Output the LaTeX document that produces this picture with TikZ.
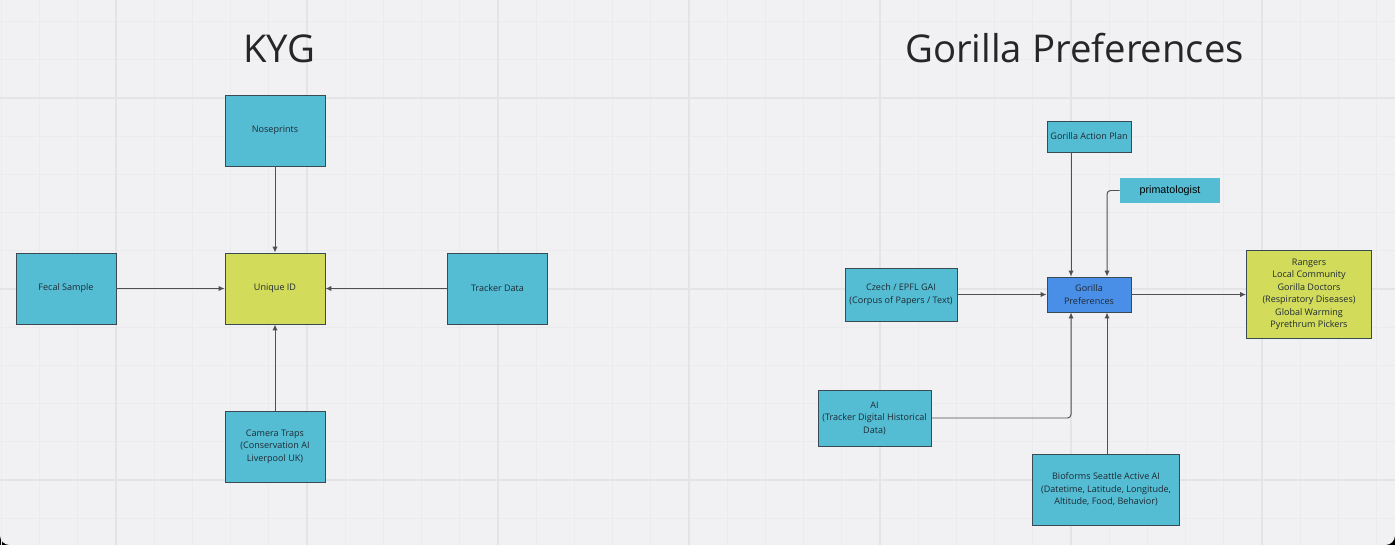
\documentclass[tikz,border=0pt]{standalone}
\usepackage{fontspec}
\setmainfont{Open Sans}
\newfontfamily\arialfont{Liberation Sans}
\usetikzlibrary{arrows.meta}

\definecolor{boardbg}{RGB}{241,240,242}
\definecolor{gridminor}{RGB}{235,234,236}
\definecolor{gridmajor}{RGB}{228,227,230}
\definecolor{boxteal}{RGB}{85,189,211}
\definecolor{boxyellow}{RGB}{211,220,90}
\definecolor{boxblue}{RGB}{74,143,231}
\definecolor{boxline}{RGB}{58,74,82}
\definecolor{wirecol}{RGB}{80,80,80}
\definecolor{inktext}{RGB}{30,42,52}

\begin{document}
\begin{tikzpicture}[
			x=0.02cm, y=-0.02cm,
			main/.style = {draw=boxline, fill=boxteal, line width=0.55pt, text=inktext, align=center, inner sep=0pt, font=\fontsize{5.15}{7.1}\selectfont},
			goal/.style = {main, fill=boxyellow},
			hub/.style = {main, fill=boxblue},
			tag/.style = {fill=boxteal, text=black, inner sep=0pt, font=\arialfont\fontsize{6.1}{7}\selectfont},
			title/.style = {anchor=base, text=black!85, font=\fontsize{21.8}{26}\selectfont},
			wire/.style = {draw=wirecol, line width=0.55pt, -{Latex[length=3.4pt, width=3pt]}}
		]
		\useasboundingbox (0,0) rectangle (1395,545);
		\clip (0,0) rectangle (1395,545);
		% board with the rounded bottom corners of the window
		\fill[black] (0,520) rectangle (1395,545);
		\fill[boardbg, rounded corners=5.5pt] (0,-30) rectangle (1395,545);
		\foreach \k in {-3,...,33}
			\draw[gridminor, line width=0.6pt] ({116+38.2*\k},0) -- ({116+38.2*\k},545);
		\foreach \k in {-2,...,11}
			\draw[gridminor, line width=0.6pt] (0,{98+38.2*\k}) -- (1395,{98+38.2*\k});
		\foreach \k in {0,5,...,30}
			\draw[gridmajor, line width=0.9pt] ({116+38.2*\k},0) -- ({116+38.2*\k},545);
		\foreach \k in {0,5,10}
			\draw[gridmajor, line width=0.9pt] (0,{98+38.2*\k}) -- (1395,{98+38.2*\k});

		% KYG
		\node[title] (kyg) at (279.5,62) {KYG};
		\node[main, minimum width=2cm, minimum height=1.42cm] (1) at (275,130.5) {Noseprints};
		\node[main, minimum width=2cm, minimum height=1.42cm] (2) at (66,288.5) {Fecal Sample};
		\node[goal, minimum width=2cm, minimum height=1.42cm] (3) at (275,288.5) {Unique ID};
		\node[main, minimum width=2cm, minimum height=1.42cm] (4) at (497.5,288.5) {Tracker Data};
		\node[main, minimum width=2cm, minimum height=1.42cm] (5) at (275,446.5) {Camera Traps\\(Conservation AI\\Liverpool UK)};
		\draw[wire] (1) -- (3);
		\draw[wire] (2) -- (3);
		\draw[wire] (4) -- (3);
		\draw[wire] (5) -- (3);

		% Gorilla Preferences
		\node[title] (gp) at (1074.5,62) {Gorilla Preferences};
		\node[main, minimum width=1.68cm, minimum height=0.62cm] (6) at (1089,136.5) {Gorilla Action Plan};
		\node[tag, minimum width=2cm, minimum height=0.5cm] (7) at (1170,190.5) {primatologist};
		\node[hub, minimum width=1.68cm, minimum height=0.7cm] (8) at (1089,294.5) {Gorilla\\Preferences};
		\node[main, minimum width=2.24cm, minimum height=1.06cm] (9) at (901,294.5) {Czech / EPFL GAI\\(Corpus of Papers / Text)};
		\node[goal, minimum width=2.5cm, minimum height=1.76cm] (10) at (1309,294.5) {Rangers\\Local Community\\Gorilla Doctors\\(Respiratory Diseases)\\Global Warming\\Pyrethrum Pickers};
		\node[main, minimum width=2.26cm, minimum height=1.12cm] (11) at (874.5,418) {AI\\(Tracker Digital Historical\\Data)};
		\node[main, minimum width=2.94cm, minimum height=1.42cm] (12) at (1106,489.5) {Bioforms Seattle Active AI\\(Datetime, Latitude, Longitude,\\Altitude, Food, Behavior)};
		\coordinate (c1) at (1071,0);
		\coordinate (c2) at (1107,0);
		\draw[wire] (6.south -| c1) -- (8.north -| c1);
		\draw[wire, rounded corners=2pt] (7.west) -| (8.north -| c2);
		\draw[wire] (9) -- (8);
		\draw[wire] (8) -- (10);
		\draw[wire, rounded corners=2pt] (11.east) -| (8.south -| c1);
		\draw[wire] (12.north -| c2) -- (8.south -| c2);
	\end{tikzpicture}
\end{document}
